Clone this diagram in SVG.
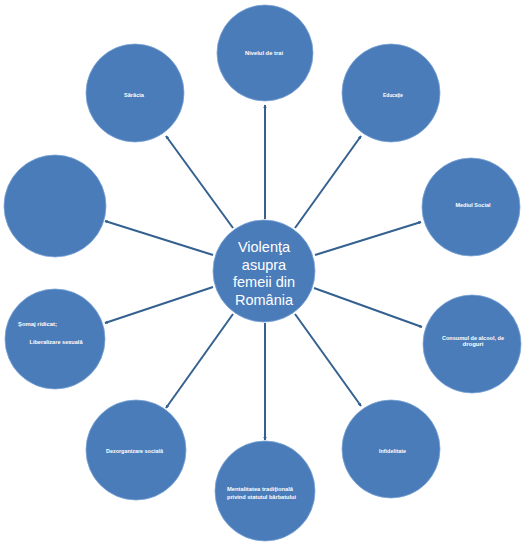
<svg xmlns="http://www.w3.org/2000/svg" width="527" height="546" viewBox="0 0 527 546">
<defs>
<marker id="ah" viewBox="0 0 6 6" refX="5" refY="3" markerWidth="3.5" markerHeight="3.5" markerUnits="userSpaceOnUse" orient="auto">
<path d="M0,0 L6,3 L0,6 z" fill="#34618f"/>
</marker>
</defs>
<style>
.node circle{fill:#4b7cba;stroke:#7aa3d6;stroke-width:0.8}
.lbl{font-family:"Liberation Sans",Arial,sans-serif;font-weight:bold;font-size:5.2px;fill:#ffffff;text-anchor:middle}
.ctr{font-family:"Liberation Sans",Arial,sans-serif;font-size:14.5px;fill:#ffffff;text-anchor:middle}
#connectors line{stroke:#34618f;stroke-width:2;marker-end:url(#ah)}
</style>
<rect width="527" height="546" fill="#ffffff"/>
<g id="connectors">
<line x1="265" y1="219" x2="265" y2="105"/>
<line x1="233" y1="228" x2="166" y2="136"/>
<line x1="295" y1="228" x2="361" y2="136"/>
<line x1="315" y1="255" x2="421" y2="222"/>
<line x1="213" y1="255" x2="105" y2="221"/>
<line x1="213" y1="287" x2="105" y2="323"/>
<line x1="314" y1="288" x2="422" y2="327"/>
<line x1="233" y1="314" x2="166" y2="408"/>
<line x1="295" y1="314" x2="361" y2="406"/>
<line x1="265" y1="323" x2="265" y2="440"/>
</g>
<g id="center" class="node">
<circle cx="264" cy="271" r="51"/>
<text class="ctr" x="264" y="252">Violenţa</text>
<text class="ctr" x="264" y="269.5">asupra</text>
<text class="ctr" x="264" y="287">femeii din</text>
<text class="ctr" x="264" y="304.5">România</text>
</g>
<g id="n-nivel" class="node">
<circle cx="265" cy="53" r="48"/>
<text class="lbl" x="264" y="55" textLength="38" lengthAdjust="spacingAndGlyphs">Nivelul de trai</text>
</g>
<g id="n-saracia" class="node">
<circle cx="135" cy="93" r="49"/>
<text class="lbl" x="134" y="97" textLength="20" lengthAdjust="spacingAndGlyphs">Sărăcia</text>
</g>
<g id="n-educatie" class="node">
<circle cx="391" cy="93" r="49"/>
<text class="lbl" x="393" y="97" textLength="20" lengthAdjust="spacingAndGlyphs">Educaţie</text>
</g>
<g id="n-mediul" class="node">
<circle cx="471" cy="207" r="49"/>
<text class="lbl" x="473" y="207" textLength="35" lengthAdjust="spacingAndGlyphs">Mediul Social</text>
</g>
<g id="n-empty" class="node">
<circle cx="55" cy="206" r="51"/>
</g>
<g id="n-somaj" class="node">
<circle cx="55" cy="339" r="50"/>
<text class="lbl" x="37.5" y="326" textLength="39" lengthAdjust="spacingAndGlyphs">Şomaj ridicat;</text>
<text class="lbl" x="56" y="344" textLength="53" lengthAdjust="spacingAndGlyphs">Liberalizare sexuală</text>
</g>
<g id="n-consum" class="node">
<circle cx="472" cy="344" r="49"/>
<text class="lbl" x="473" y="339.5" textLength="62" lengthAdjust="spacingAndGlyphs">Consumul de alcool, de</text>
<text class="lbl" x="473" y="345.5" textLength="21" lengthAdjust="spacingAndGlyphs">droguri</text>
</g>
<g id="n-dezorg" class="node">
<circle cx="136" cy="450" r="50"/>
<text class="lbl" x="134.5" y="453" textLength="57" lengthAdjust="spacingAndGlyphs">Dezorganizare socială</text>
</g>
<g id="n-infid" class="node">
<circle cx="391" cy="449" r="49"/>
<text class="lbl" x="392.5" y="453" textLength="27" lengthAdjust="spacingAndGlyphs">Infidelitate</text>
</g>
<g id="n-mental" class="node">
<circle cx="265" cy="491" r="50"/>
<text class="lbl" x="260" y="491" textLength="66" lengthAdjust="spacingAndGlyphs">Mentalitatea tradiţională</text>
<text class="lbl" x="261.5" y="499" textLength="69" lengthAdjust="spacingAndGlyphs">privind statutul bărbatului</text>
</g>
</svg>
